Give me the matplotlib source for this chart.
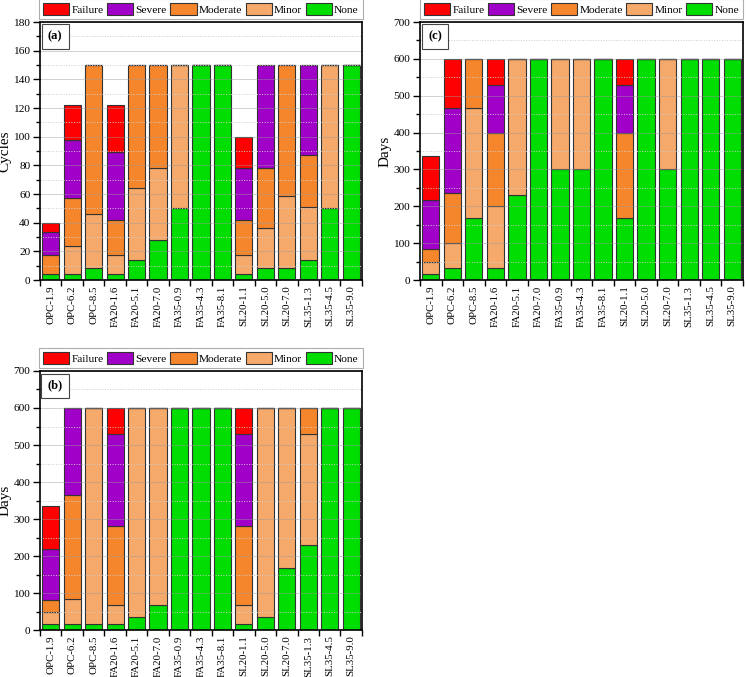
import matplotlib
matplotlib.use("Agg")
import matplotlib.pyplot as plt
import numpy as np
from matplotlib.ticker import MultipleLocator, FixedLocator

plt.rcParams['font.family'] = ['Liberation Serif', 'DejaVu Serif']

mixes = ['OPC-1.9', 'OPC-6.2', 'OPC-8.5', 'FA20-1.6', 'FA20-5.1', 'FA20-7.0',
         'FA35-0.9', 'FA35-4.3', 'FA35-8.1', 'SL20-1.1', 'SL20-5.0', 'SL20-7.0',
         'SL35-1.3', 'SL35-4.5', 'SL35-9.0']
stages = ['None', 'Minor', 'Moderate', 'Severe', 'Failure']
colors = {'Failure': '#ff0000', 'Severe': '#a000c8', 'Moderate': '#f5862c',
          'Minor': '#f5a96a', 'None': '#00dd00'}

# end of each damage stage (cumulative)
# panel (a) - cycles
a_none = [4, 4, 8.6, 4, 13.7, 28, 50, 150, 150, 4, 8.6, 8.6, 13.7, 50, 150]
a_minor = [4, 23.7, 46.3, 17.6, 64.2, 78, 150, 150, 150, 17.6, 36.5, 58.8, 50.9, 150, 150]
a_moderate = [17.4, 57, 150, 41.7, 150, 150, 150, 150, 150, 41.7, 78, 150, 87.2, 150, 150]
a_severe = [33.5, 97.8, 150, 89, 150, 150, 150, 150, 150, 78, 150, 150, 150, 150, 150]
a_failure = [39.7, 122, 150, 122, 150, 150, 150, 150, 150, 100, 150, 150, 150, 150, 150]

# panel (b) - days
b_none = [17, 17, 17, 17, 34, 67, 600, 600, 600, 17, 34, 168, 231, 600, 600]
b_minor = [50, 85, 600, 67, 600, 600, 600, 600, 600, 67, 600, 600, 531, 600, 600]
b_moderate = [82, 366, 600, 280, 600, 600, 600, 600, 600, 280, 600, 600, 600, 600, 600]
b_severe = [218, 600, 600, 531, 600, 600, 600, 600, 600, 531, 600, 600, 600, 600, 600]
b_failure = [336, 600, 600, 600, 600, 600, 600, 600, 600, 600, 600, 600, 600, 600, 600]

# panel (c) - days
c_none = [17, 33, 167, 33, 231, 600, 300, 300, 600, 167, 600, 300, 600, 600, 600]
c_minor = [50, 100, 467, 202, 600, 600, 600, 600, 600, 167, 600, 600, 600, 600, 600]
c_moderate = [83, 235, 600, 400, 600, 600, 600, 600, 600, 400, 600, 600, 600, 600, 600]
c_severe = [217, 467, 600, 530, 600, 600, 600, 600, 600, 530, 600, 600, 600, 600, 600]
c_failure = [336, 600, 600, 600, 600, 600, 600, 600, 600, 600, 600, 600, 600, 600, 600]


def draw_panel(ax, ends, ymax, ystep, ylabel, tag):
    x = np.arange(len(mixes))
    bottom = np.zeros(len(mixes))
    handles = {}
    for stage, top in zip(stages, ends):
        top = np.array(top, dtype=float)
        h = ax.bar(x, top - bottom, 0.8, bottom=bottom, color=colors[stage],
                   edgecolor='#333333', linewidth=0.8, zorder=2)
        handles[stage] = h
        bottom = top
    ax.set_xlim(-0.5, len(mixes) - 0.5)
    ax.set_ylim(0, ymax)
    ax.yaxis.set_major_locator(MultipleLocator(ystep))
    ax.yaxis.set_minor_locator(MultipleLocator(ystep / 2))
    ax.set_xticks(x)
    ax.set_xticklabels(mixes, rotation=90, fontsize=7.8)
    ax.xaxis.set_minor_locator(FixedLocator(np.arange(-0.5, len(mixes), 1.0)))
    ax.tick_params(axis='x', which='major', length=0, pad=4)
    ax.tick_params(axis='x', which='minor', length=4, width=1, direction='out')
    ax.tick_params(axis='y', which='major', length=5, width=1, labelsize=8.2, pad=2)
    ax.tick_params(axis='y', which='minor', length=3, width=1)
    ax.grid(axis='y', which='major', color='#999999', alpha=0.45, linewidth=0.7, zorder=3)
    ax.grid(axis='y', which='minor', color='#cccccc', linestyle=':', linewidth=0.7, zorder=1)
    ax.set_axisbelow(False)
    for s in ax.spines.values():
        s.set_linewidth(1.2)
        s.set_zorder(5)
    ax.set_ylabel(ylabel, fontsize=11)
    ax.yaxis.set_label_coords(-0.088, 0.5)
    ax.text(0.047, 0.943, tag, transform=ax.transAxes, fontsize=9, fontweight='bold',
            ha='center', va='center', zorder=6,
            bbox=dict(boxstyle='square,pad=0.5', facecolor='white', edgecolor='#444444', linewidth=0.8))
    order = ['Failure', 'Severe', 'Moderate', 'Minor', 'None']
    leg = ax.legend([handles[k] for k in order], order, ncol=5,
                    loc='lower center', bbox_to_anchor=(0.5, 1.012),
                    fontsize=8.2, frameon=True, fancybox=False, borderaxespad=0,
                    handlelength=2.3, handleheight=1.15, handletextpad=0.2,
                    columnspacing=0.3, borderpad=0.35)
    leg.get_frame().set_edgecolor('#999999')
    leg.get_frame().set_linewidth(0.8)


fig = plt.figure(figsize=(7.46, 6.77), dpi=100)
ax_a = fig.add_axes([0.0536, 0.5864, 0.4316, 0.3811])
ax_c = fig.add_axes([0.563, 0.5864, 0.433, 0.3811])
ax_b = fig.add_axes([0.0536, 0.0694, 0.4316, 0.3826])

draw_panel(ax_a, [a_none, a_minor, a_moderate, a_severe, a_failure], 180, 20, 'Cycles', '(a)')
draw_panel(ax_b, [b_none, b_minor, b_moderate, b_severe, b_failure], 700, 100, 'Days', '(b)')
draw_panel(ax_c, [c_none, c_minor, c_moderate, c_severe, c_failure], 700, 100, 'Days', '(c)')

fig.savefig('out.png', dpi=100)
